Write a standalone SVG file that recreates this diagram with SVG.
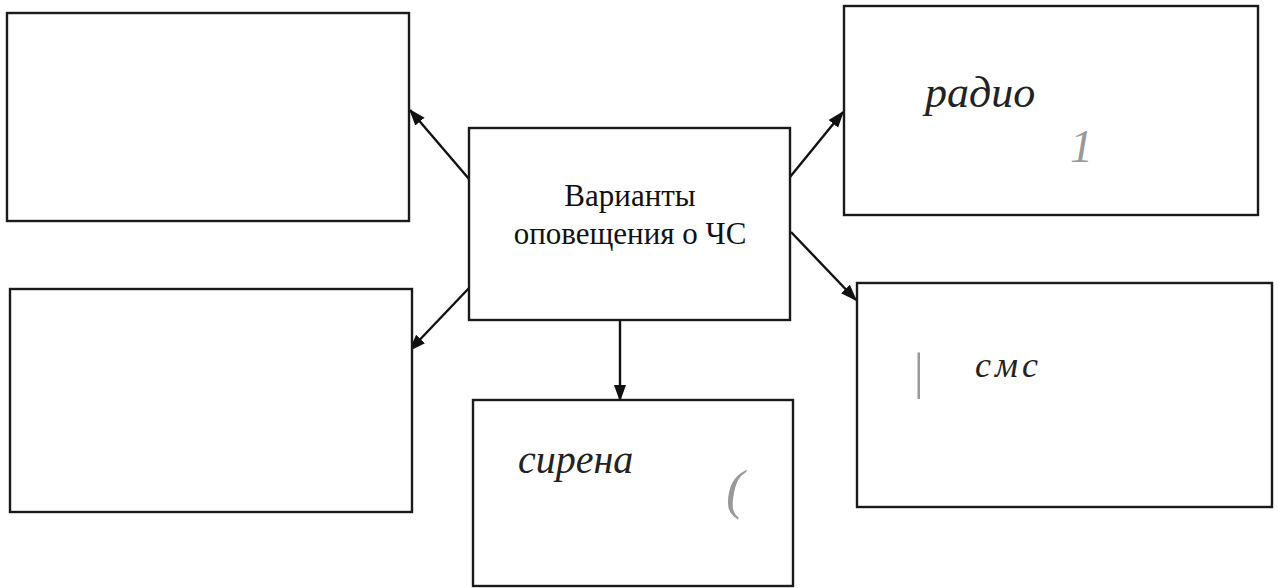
<svg xmlns="http://www.w3.org/2000/svg" width="1278" height="588" viewBox="0 0 1278 588">
<defs>
<style>
.box{fill:#fff;stroke:#1a1a1a;stroke-width:2.4}
.lbl{font-family:"Liberation Serif","Times New Roman",serif;font-size:31px;fill:#111;text-anchor:middle}
.hw{font-family:"Liberation Serif","Times New Roman",serif;font-style:italic;fill:#222}
.mark{font-family:"Liberation Serif",serif;font-style:italic;fill:#999}
.con{stroke:#111;stroke-width:2.4;fill:none;marker-end:url(#arr)}
</style>
<marker id="arr" viewBox="0 0 10 10" refX="9" refY="5" markerWidth="17" markerHeight="17" markerUnits="userSpaceOnUse" orient="auto">
<path d="M0,1.4 L10,5 L0,8.6 z" fill="#111"/>
</marker>
</defs>
<rect width="1278" height="588" fill="#fff"/>
<g id="connectors">
<line class="con" x1="469" y1="179" x2="410" y2="110"/>
<line class="con" x1="470" y1="287" x2="410" y2="350"/>
<line class="con" x1="790" y1="177" x2="843" y2="112"/>
<line class="con" x1="791" y1="232" x2="856" y2="300"/>
<line class="con" x1="620" y1="315" x2="620" y2="400"/>
</g>
<g id="center">
<rect class="box" x="469" y="128" width="321" height="192"/>
<text class="lbl" x="630" y="206">Варианты</text>
<text class="lbl" x="630" y="244">оповещения о ЧС</text>
</g>
<g id="top-left">
<rect class="box" x="7" y="13" width="402" height="208"/>
</g>
<g id="bottom-left">
<rect class="box" x="10" y="289" width="402" height="223"/>
</g>
<g id="top-right">
<rect class="box" x="844" y="6" width="414" height="209"/>
<text class="hw" x="925" y="107" font-size="44">радио</text>
<text class="mark" x="1070" y="162" font-size="46">1</text>
</g>
<g id="bottom-right">
<rect class="box" x="857" y="283" width="415" height="224"/>
<text class="hw" x="975" y="377" font-size="36" letter-spacing="4">смс</text>
<text class="mark" x="911" y="388" font-size="50">|</text>
</g>
<g id="bottom-center">
<rect class="box" x="473" y="400" width="320" height="186"/>
<text class="hw" x="518" y="473" font-size="40">сирена</text>
<text class="mark" x="726" y="508" font-size="54">(</text>
</g>
</svg>
